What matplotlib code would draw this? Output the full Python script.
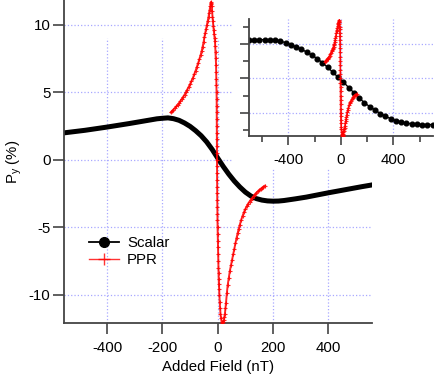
import matplotlib
matplotlib.use("Agg")
import matplotlib.pyplot as plt
from matplotlib.lines import Line2D
from matplotlib.patches import Rectangle

# main panel: scalar signal (nT, %)
scalar_x = [-560, -520, -480, -440, -400, -360, -320, -280, -240, -220, -200, -180,
            -160, -140, -120, -100, -80, -60, -40, -20, 0, 20, 40, 60, 80, 100, 120,
            140, 160, 180, 200, 220, 240, 280, 320, 360, 400, 440, 480, 520, 560]
scalar_y = [1.98, 2.08, 2.18, 2.30, 2.42, 2.55, 2.68, 2.82, 2.96, 3.03, 3.07, 3.10,
            3.04, 2.92, 2.72, 2.47, 2.15, 1.78, 1.32, 0.76, 0.12, -0.50, -1.07, -1.58,
            -2.02, -2.40, -2.69, -2.88, -2.99, -3.05, -3.07, -3.06, -3.02, -2.90, -2.77,
            -2.61, -2.45, -2.30, -2.15, -2.00, -1.86]

# main panel: PPR signal, in three sweeps
ppr_up_x = [-170, -165, -160, -155, -150, -145, -140, -135, -130, -125,
            -120, -115, -110, -105, -100, -95, -90, -85, -80, -75,
            -70, -66, -62, -58, -55, -51, -48, -45, -42, -39,
            -36, -33, -31, -29, -27, -25.5, -24]
ppr_up_y = [3.50, 3.61, 3.72, 3.83, 3.95, 4.07, 4.20, 4.35, 4.50, 4.66,
            4.82, 5.01, 5.20, 5.40, 5.60, 5.82, 6.05, 6.32, 6.60, 6.90,
            7.20, 7.47, 7.75, 8.05, 8.35, 8.72, 9.10, 9.40, 9.70, 10.00,
            10.30, 10.60, 10.90, 11.12, 11.35, 11.52, 11.70]
ppr_down_x = [-23, -22, -20.5, -19, -17.5, -16, -14.5, -13, -11.5, -10, -9,
              -8, -7, -6, -5.5, -5, -4.5, -4, -3.8, -3.6, -3.5,
              -3.4, -3.3, -3.2, -3.1, -2.9, -2.8, -2.6, -2.5, -2.3, -2.2,
              -2.0, -1.9, -1.7, -1.5, -1.2, -1.0, -0.5, 0.0, 0.4, 0.8,
              1.2, 1.7, 2.3, 2.9, 3.5, 4.2, 5, 6, 7, 8.5,
              10, 12, 14, 16, 18]
ppr_down_y = [11.60, 11.40, 11.00, 10.60, 10.25, 9.90, 9.60, 9.30, 9.05, 8.80, 8.40,
              8.00, 7.50, 7.00, 6.50, 6.00, 5.50, 5.00, 4.50, 4.00, 3.50,
              3.00, 2.50, 2.00, 1.50, 1.00, 0.50, 0.00, -0.50, -1.00, -1.50,
              -2.00, -2.50, -3.00, -3.50, -4.00, -4.50, -5.00, -5.50, -6.00, -6.50,
              -7.00, -7.50, -8.00, -8.40, -8.80, -9.20, -9.60, -10.00, -10.50, -11.00,
              -11.40, -11.75, -12.00, -12.10, -12.15]
ppr_back_x = [20, 22, 24, 26, 28, 30, 33, 36, 40, 44,
              48, 52, 56, 60, 64, 68, 72, 76, 80, 85,
              90, 95, 100, 105, 110, 115, 120, 125, 130, 135,
              140, 145, 150, 155, 160, 165, 171]
ppr_back_y = [-12.05, -11.90, -11.65, -11.40, -11.00, -10.60, -9.90, -9.30, -8.75, -8.22,
              -7.80, -7.40, -7.00, -6.60, -6.20, -5.80, -5.45, -5.10, -4.80, -4.45,
              -4.15, -3.88, -3.65, -3.45, -3.25, -3.10, -2.95, -2.82, -2.70, -2.57,
              -2.45, -2.35, -2.25, -2.16, -2.08, -2.00, -1.92]

# inset: scalar signal (arb. units)
inset_scalar_x = [-700, -660, -620, -580, -540, -500, -460, -420, -380, -340, -300,
                  -260, -220, -180, -140, -100, -60, -20, 20, 60, 100, 140, 180, 220,
                  260, 300, 340, 380, 420, 460, 500, 540, 580, 620, 660, 700]
inset_scalar_y = [1.11, 1.12, 1.12, 1.12, 1.12, 1.11, 1.08, 1.03, 0.97, 0.91, 0.84,
                  0.76, 0.67, 0.57, 0.45, 0.32, 0.17, 0.03, -0.11, -0.27, -0.42, -0.57,
                  -0.71, -0.82, -0.92, -1.02, -1.10, -1.17, -1.23, -1.27, -1.30, -1.32,
                  -1.33, -1.34, -1.34, -1.34]

# inset: PPR signal
inset_up_x = [-120, -115, -110, -105, -100, -95, -90, -85, -80, -75,
              -70, -66, -62, -59, -56, -53, -50, -47, -44, -41,
              -38, -35, -32, -29.5, -27, -24.5, -22, -19.5, -17, -15, -13]
inset_up_y = [0.48, 0.50, 0.52, 0.55, 0.57, 0.60, 0.63, 0.66, 0.70, 0.74,
              0.78, 0.82, 0.86, 0.89, 0.92, 0.96, 1.00, 1.05, 1.10, 1.17,
              1.24, 1.30, 1.36, 1.41, 1.46, 1.51, 1.56, 1.60, 1.64, 1.67, 1.69]
inset_down_x = [-12, -11, -10, -9, -8.2, -7.5, -6.8, -6, -5.5, -5,
                -4.6, -4.2, -3.9, -3.6, -3.3, -3.0, -2.7, -2.5, -2.2, -2.0,
                -1.7, -1.5, -1.2, -1.0, -0.5, 0, 1, 2, 3.5, 5,
                7, 9, 11, 13]
inset_down_y = [1.64, 1.58, 1.50, 1.42, 1.32, 1.22, 1.11, 1.00, 0.88, 0.75,
                0.63, 0.50, 0.38, 0.25, 0.13, 0.00, -0.13, -0.25, -0.38, -0.50,
                -0.63, -0.75, -0.88, -1.00, -1.10, -1.20, -1.30, -1.40, -1.48, -1.55,
                -1.60, -1.64, -1.66, -1.66]
inset_back_x = [15, 17, 19.5, 22, 25, 28, 31, 34, 37, 40,
                42.5, 45, 48.5, 52, 57.5, 63, 67.5, 72, 78, 84,
                90, 96, 102.5, 109, 115.5, 122]
inset_back_y = [-1.64, -1.60, -1.56, -1.52, -1.48, -1.44, -1.38, -1.30, -1.24, -1.17,
                -1.11, -1.06, -0.99, -0.93, -0.85, -0.77, -0.73, -0.69, -0.65, -0.61,
                -0.57, -0.53, -0.50, -0.48, -0.47, -0.46]

main_xticks = [-400, -200, 0, 200, 400]
main_yticks = [-10, -5, 0, 5, 10]
inset_xticks = [-400, 0, 400]

W, H = 443, 377
plt.rcParams["font.family"] = ["Liberation Sans", "DejaVu Sans"]
plt.rcParams["font.size"] = 10.8
plt.rcParams["mathtext.default"] = "regular"
plt.rcParams["axes.unicode_minus"] = False

axis_col = "#444444"
grid_col = "#a8a8ff"


def main():
    ppr_x = ppr_up_x + ppr_down_x + ppr_back_x
    ppr_y = ppr_up_y + ppr_down_y + ppr_back_y
    inset_ppr_x = inset_up_x + inset_down_x + inset_back_x
    inset_ppr_y = inset_up_y + inset_down_y + inset_back_y

    fig = plt.figure(figsize=(W / 100, H / 100), dpi=100)

    # ---- main axes
    ax = fig.add_axes([64.3 / W, 1 - 322.7 / H, 307.4 / W, 322.7 / H])
    ax.set_zorder(0)
    ax.set_xlim(-555, 557)
    ax.set_ylim(-12.07, 11.83)
    for s in ("top", "right"):
        ax.spines[s].set_visible(False)
    for s in ("left", "bottom"):
        ax.spines[s].set_color(axis_col)
        ax.spines[s].set_linewidth(1.3)
    ax.set_xticks(main_xticks)
    ax.set_yticks(main_yticks)
    ax.tick_params(axis="both", direction="out", length=8, width=1.2, color=axis_col)
    ax.tick_params(axis="x", pad=5)
    ax.tick_params(axis="y", pad=2)
    ax.yaxis.grid(True, color=grid_col, linestyle=":", linewidth=0.9)
    for xv in main_xticks:
        ax.axvline(xv, ymin=0, ymax=(322.7 - 38) / 322.7, color=grid_col,
                   linestyle=":", linewidth=0.9, zorder=0.5)
    ax.set_axisbelow(True)

    ax.plot(scalar_x, scalar_y, color="black", linewidth=3.6, zorder=2,
            solid_capstyle="round", solid_joinstyle="round")
    ax.plot(ppr_x, ppr_y, color="red", linewidth=1.4, marker="+", markersize=3.5,
            markeredgewidth=0.8, alpha=0.85, zorder=3)

    ax.set_xlabel("Added Field (nT)", labelpad=4)
    ax.set_ylabel("P$_y$ (%)", labelpad=3)

    handles = [Line2D([], [], color="black", linewidth=1.3, marker="o", markersize=7),
               Line2D([], [], color="red", linewidth=1.0, marker="+", markersize=8,
                      markeredgewidth=1.0, alpha=0.8)]
    ax.legend(handles, ["Scalar", "PPR"], frameon=False, loc="upper left",
              bbox_to_anchor=((89 - 64.3) / 307.4, (322.7 - 236) / 322.7),
              borderpad=0, borderaxespad=0, handlelength=2.0, handletextpad=0.55,
              labelspacing=0.22)

    # white box behind the inset
    fig.add_artist(Rectangle((232 / W, 1 - 168 / H), 1 - 232 / W, 168 / H,
                             transform=fig.transFigure, facecolor="white",
                             edgecolor="none", zorder=1))

    # ---- inset
    ins = fig.add_axes([249 / W, 1 - 136 / H, 183.7 / W, 117 / H])
    ins.set_zorder(2)
    ins.set_xlim(-700, 700)
    ins.set_ylim(-1.672, 1.719)
    for s in ("top", "right"):
        ins.spines[s].set_visible(False)
    for s in ("left", "bottom"):
        ins.spines[s].set_color(axis_col)
        ins.spines[s].set_linewidth(1.3)
    ins.set_xticks(inset_xticks)
    ins.set_xticks([-600, -200, 200, 600], minor=True)
    ins.set_yticks([-1, 0, 1])
    ins.set_yticks([-1.5, -0.5, 0.5, 1.5], minor=True)
    ins.set_yticklabels([])
    ins.tick_params(axis="both", which="major", direction="out", length=6.5,
                    width=1.2, color=axis_col)
    ins.tick_params(axis="both", which="minor", direction="out", length=4,
                    width=1.2, color=axis_col)
    ins.tick_params(axis="x", pad=6)
    ins.grid(True, which="major", color=grid_col, linestyle=":", linewidth=0.9)
    ins.set_axisbelow(True)

    ins.plot(inset_scalar_x, inset_scalar_y, color="black", linewidth=1.0,
             marker="o", markersize=3.4, zorder=2)
    ins.plot(inset_ppr_x, inset_ppr_y, color="red", linewidth=1.2, marker="+",
             markersize=3.2, markeredgewidth=0.8, alpha=0.85, zorder=3)

    fig.savefig("out.png", dpi=100)


if __name__ == "__main__":
    main()
